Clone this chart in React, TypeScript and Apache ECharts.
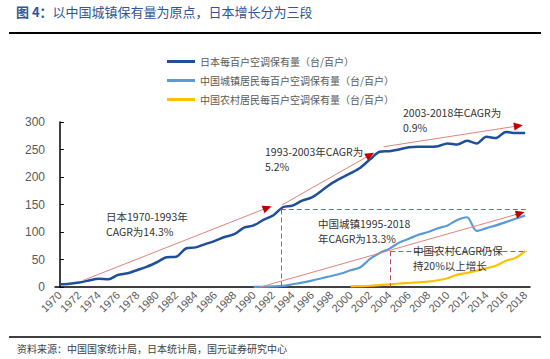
import React, { useEffect, useRef } from 'react';
import * as echarts from 'echarts';

const years = [
  '1970','1971','1972','1973','1974','1975','1976','1977','1978','1979',
  '1980','1981','1982','1983','1984','1985','1986','1987','1988','1989',
  '1990','1991','1992','1993','1994','1995','1996','1997','1998','1999',
  '2000','2001','2002','2003','2004','2005','2006','2007','2008','2009',
  '2010','2011','2012','2013','2014','2015','2016','2017','2018',
];

const japan = [
  5, 6, 8, 12, 15, 14, 22, 25, 31, 37,
  45, 54, 55, 70, 72, 78, 84, 91, 96, 108,
  112, 122, 130, 145, 148, 157, 163, 175, 188, 198,
  207, 217, 232, 246, 247, 250, 254, 255, 255, 256,
  261, 259, 266, 261, 273, 271, 282, 280, 280,
];

const urban = [
  null, null, null, null, null, null, null, null, null, null,
  null, null, null, null, null, null, null, null, null, null,
  0.3, 0.5, 1, 2, 5, 8, 11.6, 16, 20, 24.5,
  30.5, 35.8, 51, 61.8, 69.8, 80.7, 87.8, 95, 100, 106.8,
  112, 122, 126.8, 102, 107, 112, 118, 124, 130,
];

const rural = [
  null, null, null, null, null, null, null, null, null, null,
  null, null, null, null, null, null, null, null, null, null,
  null, null, null, null, null, null, null, null, null, null,
  1.3, 1.7, 2.3, 3.5, 4.7, 6.4, 7.3, 8.5, 9.8, 12.2,
  16, 22.6, 25.4, 29.8, 34.2, 38.8, 47.6, 52.6, 65.2,
];

const seriesNames = [
  '日本每百户空调保有量（台/百户）',
  '中国城镇居民每百户空调保有量（台/百户）',
  '中国农村居民每百户空调保有量（台/百户）',
];

const yMin = 0;
const yMax = 300;
const yInterval = 50;

// annotation geometry in data space: [year index (fractional), value]
const arrows: number[][][] = [
  [[2.4, 12], [21.4, 144]],
  [[22.9, 149], [32.0, 240]],
  [[33.4, 255], [47.3, 293]],
  [[20.7, 0], [47.5, 134]],
];

const dashed: number[][][] = [
  [[22.8, 141], [22.8, 0]],
  [[22.8, 141], [48.2, 141]],
  [[34.1, 65], [34.1, 0]],
  [[34.1, 65], [48.2, 65]],
];

const notes = [
  { text: '日本1970-1993年', x: 106, y: 211 },
  { text: 'CAGR为14.3%', x: 106, y: 226 },
  { text: '1993-2003年CAGR为', x: 265, y: 146 },
  { text: '5.2%', x: 265, y: 161 },
  { text: '2003-2018年CAGR为', x: 403, y: 107 },
  { text: '0.9%', x: 403, y: 122 },
  { text: '中国城镇1995-2018', x: 318, y: 218 },
  { text: '年CAGR为13.3%', x: 318, y: 233 },
  { text: '中国农村CAGR仍保', x: 413, y: 245 },
  { text: '持20%以上增长', x: 413, y: 260 },
];

const App: React.FC = () => {
  const ref = useRef<HTMLDivElement>(null);

  useEffect(() => {
    if (!ref.current) return;
    const chart = echarts.init(ref.current, null, { renderer: 'svg' });

    const headSegs = arrows.map(([s, e]) => {
      const f = 0.02;
      const p = [e[0] - (e[0] - s[0]) * f, e[1] - (e[1] - s[1]) * f];
      return [
        { coord: p, symbol: 'none' },
        { coord: e, symbol: 'triangle', symbolSize: [8, 9] },
      ];
    });

    const cjk = '"Noto Sans CJK SC", "Noto Sans", sans-serif';

    const option: any = {
      animation: false,
      backgroundColor: '#ffffff',
      grid: { left: 55, right: 20, top: 122, bottom: 72, containLabel: false },
      legend: {
        data: seriesNames,
        orient: 'vertical',
        left: 162,
        top: 50,
        icon: 'rect',
        itemWidth: 28,
        itemHeight: 3,
        itemGap: 6,
        textStyle: { fontSize: 10, color: '#595959', fontFamily: cjk, lineHeight: 13 },
      },
      xAxis: [
        {
          type: 'category',
          data: years,
          boundaryGap: true,
          axisLine: { lineStyle: { color: '#000', width: 1.5 } },
          axisTick: { inside: true, length: 4, interval: 0, lineStyle: { color: '#000' } },
          axisLabel: {
            interval: 1,
            rotate: 45,
            fontSize: 11,
            color: '#595959',
            fontFamily: 'Liberation Sans, Arial, sans-serif',
            margin: 6,
          },
          splitLine: { show: false },
        },
        {
          type: 'value',
          min: -0.5,
          max: 48.5,
          show: false,
          splitLine: { show: false },
        },
      ],
      yAxis: {
        type: 'value',
        min: yMin,
        max: yMax,
        interval: yInterval,
        axisLine: { show: true, lineStyle: { color: '#000', width: 1.5 } },
        axisTick: { show: true, inside: true, length: 4, lineStyle: { color: '#000' } },
        axisLabel: { fontSize: 12, color: '#595959', fontFamily: 'Liberation Sans, Arial, sans-serif', margin: 10 },
        splitLine: { show: false },
      },
      series: [
        {
          name: seriesNames[0],
          type: 'line',
          data: japan,
          symbol: 'none',
          smooth: 0.3,
          lineStyle: { color: '#1f4e9a', width: 2.5 },
          itemStyle: { color: '#1f4e9a' },
          z: 3,
        },
        {
          name: seriesNames[1],
          type: 'line',
          data: urban,
          symbol: 'none',
          smooth: 0.3,
          lineStyle: { color: '#5b9bd5', width: 2.2 },
          itemStyle: { color: '#5b9bd5' },
          z: 3,
        },
        {
          name: seriesNames[2],
          type: 'line',
          data: rural,
          symbol: 'none',
          smooth: 0.3,
          lineStyle: { color: '#ffc000', width: 2.2 },
          itemStyle: { color: '#ffc000' },
          z: 3,
        },
        {
          name: 'arrows',
          type: 'line',
          xAxisIndex: 1,
          data: [],
          z: 4,
          markLine: {
            silent: true,
            symbol: ['none', 'none'],
            label: { show: false },
            lineStyle: { color: '#e0837a', width: 1, type: 'solid' },
            data: arrows.map(([s, e]) => [{ coord: s }, { coord: e }]),
          },
        },
        {
          name: 'heads',
          type: 'line',
          xAxisIndex: 1,
          data: [],
          z: 5,
          markLine: {
            silent: true,
            label: { show: false },
            lineStyle: { color: '#c00000', width: 1, type: 'solid' },
            data: headSegs,
          },
        },
        {
          name: 'dashed',
          type: 'line',
          xAxisIndex: 1,
          data: [],
          z: 4,
          markLine: {
            silent: true,
            symbol: ['none', 'none'],
            label: { show: false },
            lineStyle: { color: '#c0506a', width: 1, type: [5, 3] },
            data: dashed.map(([s, e]) => [{ coord: s }, { coord: e }]),
          },
        },
      ],
      graphic: [
        {
          type: 'text',
          left: 16,
          top: 5,
          style: {
            text: '{b|图 4：}{n|以中国城镇保有量为原点，日本增长分为三段}',
            rich: {
              b: { fontSize: 13, fontWeight: 'bold', fill: '#2f5597', fontFamily: cjk },
              n: { fontSize: 13, fill: '#2f5597', fontFamily: cjk },
            },
          },
        },
        {
          type: 'line',
          shape: { x1: 9, y1: 33, x2: 541, y2: 33 },
          style: { stroke: '#000', lineWidth: 2 },
        },
        {
          type: 'line',
          shape: { x1: 9, y1: 337, x2: 541, y2: 337 },
          style: { stroke: '#000', lineWidth: 1.5 },
        },
        {
          type: 'text',
          left: 17,
          top: 343,
          style: {
            text: '资料来源：中国国家统计局，日本统计局，国元证券研究中心',
            fontSize: 10,
            fill: '#404040',
            fontFamily: cjk,
          },
        },
        ...notes.map((n) => ({
          type: 'text',
          left: n.x,
          top: n.y,
          z: 10,
          style: {
            text: n.text,
            fontSize: 10.5,
            fill: '#333333',
            fontFamily: cjk,
          },
        })),
      ],
    };

    chart.setOption(option);
    return () => chart.dispose();
  }, []);

  return (
    <div
      ref={ref}
      style={{ position: 'fixed', left: 0, top: 0, width: 550, height: 359, background: '#fff' }}
    />
  );
};

export default App;
